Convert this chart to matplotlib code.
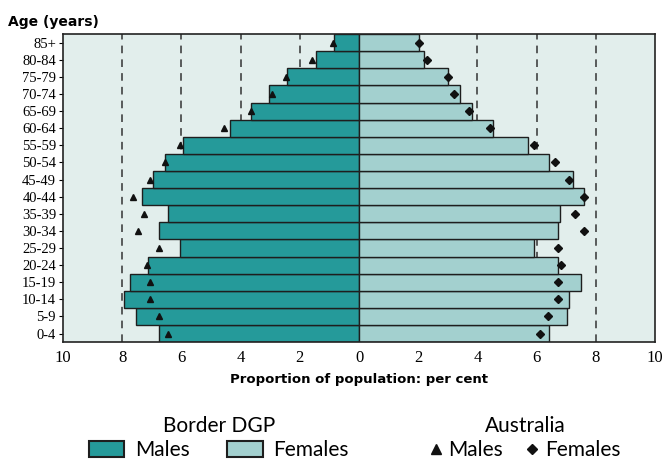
import matplotlib.pyplot as plt
from matplotlib.patches import Patch
from matplotlib.lines import Line2D

ages = ['0-4', '5-9', '10-14', '15-19', '20-24', '25-29', '30-34', '35-39', '40-44',
        '45-49', '50-54', '55-59', '60-64', '65-69', '70-74', '75-79', '80-84', '85+']
# Border DGP, per cent
males = [6.75, 7.55, 7.94, 7.75, 7.14, 6.04, 6.75, 6.45, 7.34,
         6.95, 6.54, 5.96, 4.35, 3.64, 3.05, 2.44, 1.44, 0.83]
females = [6.41, 7.01, 7.10, 7.51, 6.71, 5.91, 6.71, 6.80, 7.61,
           7.22, 6.41, 5.72, 4.51, 3.81, 3.40, 3.01, 2.20, 2.01]
# Australia, per cent
aus_males = [6.45, 6.76, 7.06, 7.06, 7.16, 6.76, 7.47, 7.25, 7.65,
             7.05, 6.57, 6.06, 4.56, 3.65, 2.95, 2.47, 1.58, 0.87]
aus_females = [6.11, 6.40, 6.71, 6.71, 6.81, 6.71, 7.61, 7.31, 7.61,
               7.10, 6.61, 5.90, 4.41, 3.71, 3.20, 3.01, 2.30, 2.01]
xticks = [-10, -8, -6, -4, -2, 0, 2, 4, 6, 8, 10]

male_col = '#259a9a'
female_col = '#a3d0cf'
edge = '#1e1e1e'

fig = plt.figure(figsize=(6.63, 4.61), dpi=100)
ax = fig.add_axes([0.095, 0.258, 0.893, 0.668])
ax.set_facecolor('#e2eeec')

y = list(range(len(ages)))
for gx in [-8, -6, -4, -2, 2, 4, 6, 8]:
    ax.axvline(gx, color='#333333', lw=1.1, ls=(0, (5, 4)), zorder=1)

ax.barh(y, [-m for m in males], height=1.0, color=male_col, edgecolor=edge, lw=1.0, zorder=2)
ax.barh(y, females, height=1.0, color=female_col, edgecolor=edge, lw=1.0, zorder=2)
ax.plot([-m for m in aus_males], y, ls='none', marker='^', ms=4.5, color='#111111', zorder=3)
ax.plot(aus_females, y, ls='none', marker='D', ms=3.6, color='#111111', zorder=3)

ax.set_xlim(-10, 10)
ax.set_ylim(-0.5, len(ages) - 0.5)
ax.set_xticks(xticks)
ax.set_xticklabels([str(abs(t)) for t in xticks], family='Liberation Serif', fontsize=12)
ax.set_yticks(y)
ax.set_yticklabels(ages, family='Liberation Serif', fontsize=10.5)
ax.tick_params(axis='x', length=0, pad=6)
ax.tick_params(axis='y', length=3, pad=2)
for s in ax.spines.values():
    s.set_linewidth(1.2)
    s.set_color('#222222')

ax.set_xlabel('Proportion of population: per cent', fontsize=9.5, fontweight='bold',
              family='DejaVu Sans', labelpad=5)
fig.text(0.012, 0.952, 'Age (years)', fontsize=10, fontweight='bold', family='DejaVu Sans',
         va='center')

lfont = {'family': 'Lato', 'size': 15, 'weight': 'normal'}
h1 = [Patch(facecolor=male_col, edgecolor=edge, lw=1.5),
      Patch(facecolor=female_col, edgecolor=edge, lw=1.5)]
leg1 = fig.legend(h1, ['Males', 'Females'], ncol=2, frameon=False, prop=lfont,
                  title='Border DGP', title_fontproperties=lfont, labelcolor='black',
                  loc='center', bbox_to_anchor=(0.33, 0.05),
                  handlelength=1.7, handleheight=0.8, handletextpad=0.5, columnspacing=1.8,
                  borderpad=0.2, labelspacing=0.2)
leg1.get_title().set_color('black')
h2 = [Line2D([], [], ls='none', marker='^', ms=7, color='#111111'),
      Line2D([], [], ls='none', marker='D', ms=5, color='#111111')]
leg2 = fig.legend(h2, ['Males', 'Females'], ncol=2, frameon=False, prop=lfont,
                  title='Australia', title_fontproperties=lfont, labelcolor='black',
                  loc='center', bbox_to_anchor=(0.792, 0.05),
                  handlelength=0.6, handletextpad=0.3, columnspacing=1.1,
                  borderpad=0.2, labelspacing=0.2)
leg2.get_title().set_color('black')

fig.savefig('out.png', dpi=100)
